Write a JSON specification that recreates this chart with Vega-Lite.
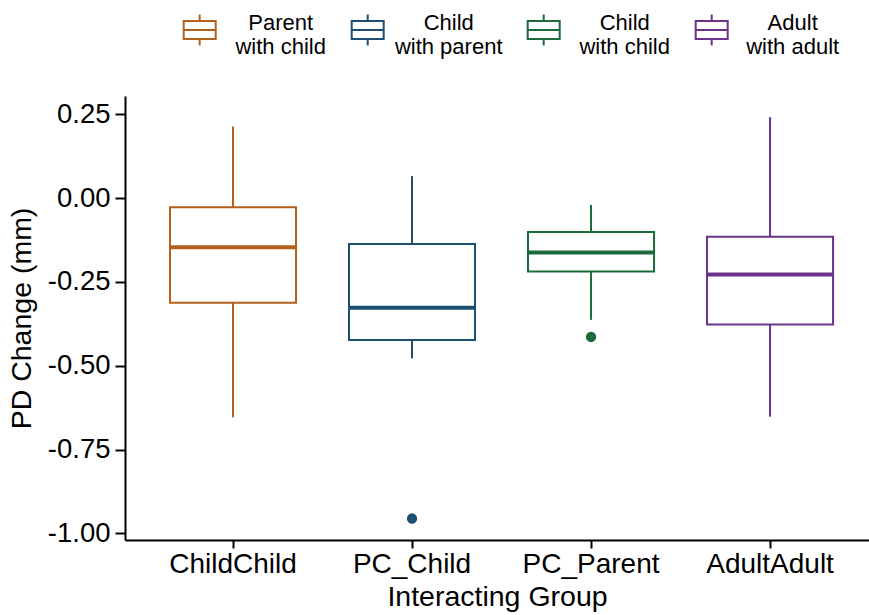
{
  "$schema": "https://vega.github.io/schema/vega-lite/v6.json",
  "width": 744,
  "height": 444,
  "autosize": {"type": "none"},
  "padding": {"left": 125, "top": 96, "right": 0, "bottom": 75},
  "background": "white",
  "config": {
    "view": {"stroke": null},
    "font": "Liberation Sans",
    "axis": {
      "grid": false,
      "domainColor": "black",
      "domainWidth": 2,
      "tickColor": "black",
      "tickWidth": 2,
      "tickSize": 8,
      "labelColor": "black",
      "titleColor": "black",
      "titleFontWeight": "normal",
      "titleFont": "Liberation Sans",
      "labelFont": "Liberation Sans"
    }
  },
  "datasets": {
    "stats": [
      {"group": "ChildChild", "role": "Parent with child", "lower": -0.654, "q1": -0.312, "median": -0.146, "q3": -0.027, "upper": 0.214},
      {"group": "PC_Child", "role": "Child with parent", "lower": -0.478, "q1": -0.423, "median": -0.327, "q3": -0.137, "upper": 0.066},
      {"group": "PC_Parent", "role": "Child with child", "lower": -0.363, "q1": -0.219, "median": -0.162, "q3": -0.101, "upper": -0.020},
      {"group": "AdultAdult", "role": "Adult with adult", "lower": -0.652, "q1": -0.377, "median": -0.228, "q3": -0.115, "upper": 0.242}
    ],
    "outliers": [
      {"group": "PC_Child", "role": "Child with parent", "value": -0.956},
      {"group": "PC_Parent", "role": "Child with child", "value": -0.414}
    ]
  },
  "encoding": {
    "x": {
      "field": "group",
      "type": "nominal",
      "sort": ["ChildChild", "PC_Child", "PC_Parent", "AdultAdult"],
      "scale": {
        "type": "band",
        "domain": ["ChildChild", "PC_Child", "PC_Parent", "AdultAdult"],
        "paddingInner": 0.296,
        "paddingOuter": 0.226,
        "align": 0.556
      },
      "axis": {
        "title": "Interacting Group",
        "titleFontSize": 28.5,
        "titlePadding": 4,
        "labelFontSize": 28,
        "labelAngle": 0,
        "labelPadding": 2
      }
    }
  },
  "layer": [
    {
      "data": {"name": "stats"},
      "mark": {"type": "bar", "fill": "white", "strokeWidth": 2, "width": {"band": 1}},
      "encoding": {
        "y": {
          "field": "q1",
          "type": "quantitative",
          "scale": {"domain": [-1.02, 0.305], "nice": false, "zero": false},
          "axis": {
            "title": "PD Change (mm)",
            "titleFontSize": 28.5,
            "titlePadding": 11,
            "labelFontSize": 27.5,
            "tickSize": 10,
            "labelPadding": 5,
            "values": [-1, -0.75, -0.5, -0.25, 0, 0.25],
            "labelExpr": "replace(format(datum.value, '.2f'), '\u2212', '-')"
          }
        },
        "y2": {"field": "q3"},
        "stroke": {
          "field": "role",
          "type": "nominal",
          "scale": {
            "domain": ["Parent with child", "Child with parent", "Child with child", "Adult with adult"],
            "range": ["#B3601C", "#1B4F72", "#1B6B3A", "#6A328A"]
          },
          "legend": {
            "orient": "none",
            "legendX": 57.7,
            "legendY": -83,
            "direction": "horizontal",
            "title": null,
            "padding": 0,
            "symbolType": "M-1,-0.5625H1V0.5625H-1Z M-1,0H1 M0,-0.5625V-0.97 M0,0.5625V0.97",
            "symbolSize": 1024,
            "symbolStrokeWidth": 2,
            "symbolFillColor": "white",
            "labelFontSize": 22,
            "labelColor": "black",
            "labelAlign": "center",
            "labelBaseline": "alphabetic",
            "labelOffset": 64,
            "labelLimit": 0,
            "columnPadding": 21,
            "labelExpr": "[split(datum.label, ' with ')[0], 'with ' + split(datum.label, ' with ')[1]]"
          }
        }
      }
    },
    {
      "data": {"name": "stats"},
      "mark": {"type": "rule", "strokeWidth": 2},
      "encoding": {
        "y": {"field": "upper", "type": "quantitative"},
        "y2": {"field": "q3"},
        "stroke": {"field": "role", "type": "nominal"}
      }
    },
    {
      "data": {"name": "stats"},
      "mark": {"type": "rule", "strokeWidth": 2},
      "encoding": {
        "y": {"field": "q1", "type": "quantitative"},
        "y2": {"field": "lower"},
        "stroke": {"field": "role", "type": "nominal"}
      }
    },
    {
      "data": {"name": "stats"},
      "mark": {"type": "tick", "filled": false, "thickness": 0, "strokeWidth": 4, "size": 126, "orient": "horizontal", "opacity": 1},
      "encoding": {
        "y": {"field": "median", "type": "quantitative"},
        "stroke": {"field": "role", "type": "nominal"}
      }
    },
    {
      "data": {"name": "outliers"},
      "mark": {"type": "point", "filled": false, "opacity": 1, "size": 24, "strokeWidth": 5.5, "shape": "circle"},
      "encoding": {
        "y": {"field": "value", "type": "quantitative"},
        "stroke": {"field": "role", "type": "nominal"}
      }
    }
  ]
}
